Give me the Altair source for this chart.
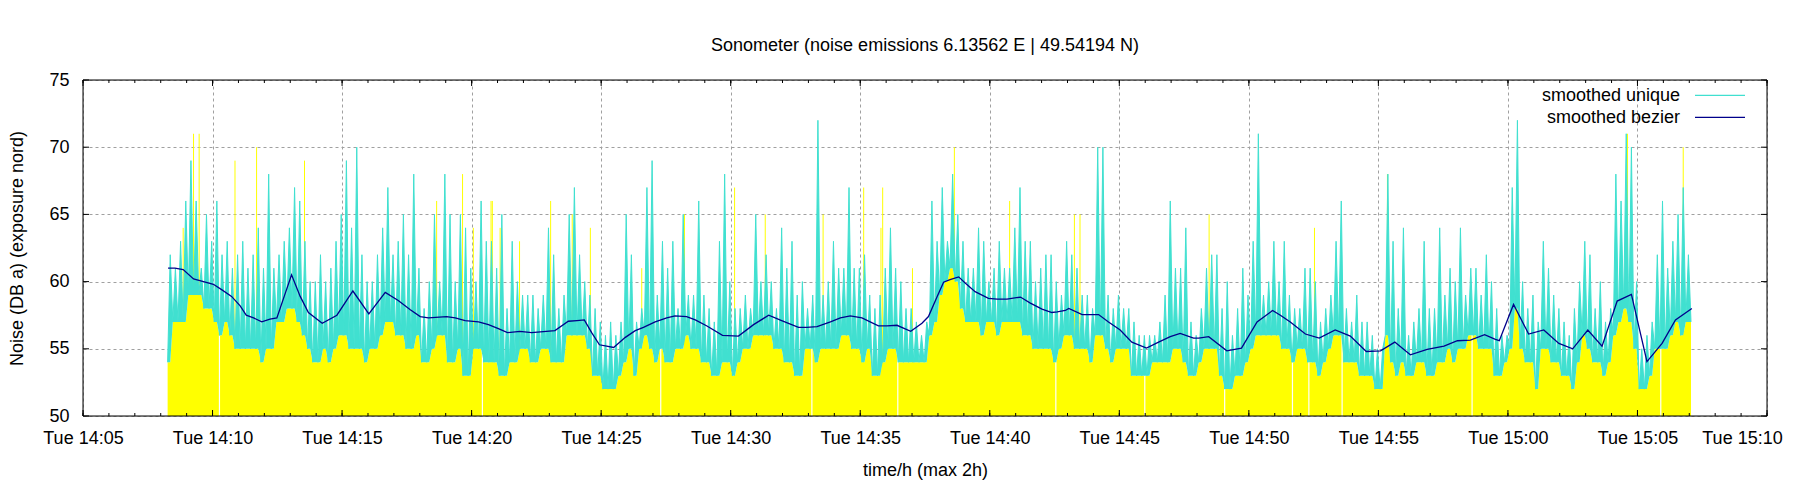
import altair as alt
import pandas as pd

FONT = "Liberation Sans"
TITLE = "Sonometer (noise emissions 6.13562 E | 49.54194 N)"
XTITLE = "time/h (max 2h)"
YTITLE = "Noise (DB a) (exposure nord)"
LEG1 = "smoothed unique"
LEG2 = "smoothed bezier"

# time axis: minutes after Tue 14:05
XMAJOR = [0, 5, 10, 15, 20, 25, 30, 35, 40, 45, 50, 55, 60, 65]
XMINOR = list(range(0, 66))
YTICKS = [50, 55, 60, 65, 70, 75]

# noise samples: 12 s bins starting 14:08:16 (seconds after 14:05)
T0 = 196
STEP = 12
# lowest level in each bin (yellow top / bottom of cyan band)
LO = [54, 57, 57, 57, 59, 59, 59, 58, 58, 57,
      56, 57, 56, 55, 55, 55, 55, 55, 54, 55,
      55, 57, 57, 58, 58, 57, 56, 55, 54, 54,
      55, 54, 55, 56, 56, 55, 55, 55, 54, 55,
      55, 56, 57, 57, 56, 56, 55, 55, 56,
      54, 54, 55, 56, 56, 54, 54, 55, 53, 53, 55,
      55, 54, 54, 54, 53, 53, 54, 54, 55, 55,
      54, 54, 55, 55, 54, 54, 54, 56, 56, 56,
      56, 55, 53, 53, 52, 52, 52, 53, 54, 55,
      53, 55, 56, 55, 54, 55, 54, 54, 55, 55,
      56, 55, 55, 54, 54, 53, 53, 54, 54, 53,
      54, 55, 55, 56, 56, 56, 56, 55, 55, 54,
      54, 53, 53, 55, 55, 54, 55, 55, 55, 55, 56, 56,
      55, 55, 54, 55, 53, 53, 54, 55, 55, 54,
      54, 54, 54, 54, 54, 56, 57, 59, 60, 61,
      60, 58, 57, 57, 57, 56, 57, 57, 56, 57,
      57, 57, 57, 56, 56, 55, 55, 55, 55, 54, 55,
      56, 56, 55, 55, 55, 54, 56, 56, 55, 54,
      55, 55, 55, 53, 53, 53, 53, 54, 54, 54,
      54, 55, 55, 54, 53, 53, 54, 55, 55, 55, 53,
      52, 52, 53, 53, 54, 55, 56, 56, 56, 56, 56,
      55, 55, 54, 55, 55, 54, 54, 53, 54, 55,
      56, 56, 54, 54, 54, 53, 53, 53, 52, 52,
      56, 54, 53, 54, 53, 53, 54, 54, 53, 53, 54,
      54, 55, 54, 55, 55, 56, 56, 55, 55, 55,
      53, 53, 54, 55, 58, 55, 54, 54, 52, 55,
      55, 54, 54, 53, 53, 52, 54, 56, 55, 54,
      54, 53, 54, 56, 57, 58, 57, 55, 52, 52,
      53, 55, 55, 55, 56, 57, 56, 57]
# highest peak in each bin
HI = [62, 61, 63, 66, 69, 66, 61, 65, 63, 66,
      62, 63, 61, 62, 63, 61, 62, 64, 61, 68,
      61, 62, 63, 64, 67, 66, 63, 60, 60, 62,
      60, 61, 63, 65, 69, 64, 70, 62, 60, 60,
      62, 64, 67, 62, 63, 65, 62, 68, 61,
      58, 60, 65, 60, 68, 65, 60, 65, 64, 61, 60,
      66, 63, 63, 61, 65, 58, 63, 60, 59, 59,
      59, 58, 59, 64, 62, 58, 59, 65, 67, 62,
      60, 59, 58, 57, 56, 57, 56, 57, 65, 62,
      57, 58, 67, 69, 59, 63, 61, 63, 58, 65,
      59, 59, 66, 59, 58, 57, 63, 68, 60, 58,
      58, 59, 58, 65, 60, 62, 60, 58, 64, 61,
      63, 59, 60, 58, 59, 72, 59, 60, 63, 61, 61, 67,
      61, 61, 62, 59, 58, 59, 61, 64, 61, 60,
      58, 58, 57, 56, 57, 66, 63, 67, 63, 68,
      65, 63, 61, 61, 64, 63, 60, 61, 63, 61,
      61, 64, 67, 63, 63, 60, 61, 62, 62, 60, 59,
      63, 62, 61, 59, 59, 58, 70, 70, 59, 58,
      59, 58, 58, 57, 56, 56, 56, 56, 57, 59,
      66, 61, 61, 64, 57, 56, 58, 61, 62, 62, 58,
      60, 56, 58, 61, 59, 63, 71, 59, 60, 63, 60,
      63, 59, 58, 58, 61, 61, 60, 57, 58, 59,
      63, 66, 58, 57, 59, 57, 57, 56, 55, 55,
      68, 63, 58, 64, 56, 57, 58, 63, 58, 58, 64,
      59, 61, 60, 64, 59, 61, 61, 59, 62, 60,
      58, 56, 56, 67, 72, 60, 58, 59, 57, 63,
      61, 59, 58, 57, 56, 58, 60, 63, 62, 58,
      60, 57, 58, 68, 66, 71, 70, 60, 55, 56,
      57, 62, 66, 61, 63, 65, 67, 62]

# raw peaks standing above the smoothed line (seconds after 14:05, dB)
YEL_T = [232, 256, 269, 352, 402, 513, 819, 879, 904, 945, 948, 966,
         1011, 1083, 1133, 1175, 1294, 1393, 1509, 1580, 1714, 1808,
         1848, 1852, 1921, 2018, 2146, 2296, 2309, 2608, 2852, 3021,
         3577, 3706]
YEL_V = [64, 71, 71, 69, 70, 69, 66, 68, 64, 66, 66, 64,
         63, 66, 65, 64, 61, 65, 67, 65, 65, 67,
         64, 67, 61, 70, 66, 65, 65, 65, 64, 68,
         71, 70]

# missing samples (seconds after 14:05)
GAP_T = [316, 925, 1338, 1688, 1887, 2253, 2459, 2644, 2801, 2839, 2916, 3217, 3654]

# smoothed bezier curve (seconds after 14:05, dB)
BEZ_T = [197, 213, 232, 256, 279, 302, 321, 344, 364, 378, 395, 414, 433, 449,
         466, 483, 503, 522, 554, 588, 625, 662, 700, 730, 758, 781,
         800, 842, 862, 885, 916, 939, 962, 983, 1012, 1039, 1073, 1093, 1124,
         1144, 1161, 1178, 1196, 1229, 1256, 1279,
         1298, 1325, 1352, 1371, 1398, 1418, 1445, 1481, 1518, 1553, 1588, 1618,
         1657, 1676, 1700, 1731, 1754, 1777,
         1804, 1842, 1862, 1885, 1917, 1943, 1958, 1979, 1993, 2008, 2028, 2043,
         2066, 2097, 2117, 2140, 2171, 2194, 2221, 2244, 2256, 2275,
         2283, 2314, 2352, 2375, 2402, 2429, 2463, 2491, 2518, 2541, 2572, 2584,
         2607, 2649, 2683, 2719, 2755, 2773,
         2796, 2831, 2863, 2900, 2935, 2972, 3005, 3038, 3074, 3113, 3152, 3183,
         3213, 3246, 3271,
         3280, 3313, 3348, 3383, 3418, 3450, 3485, 3518, 3553, 3586, 3622, 3657,
         3688, 3726]
BEZ_V = [61.0, 61.0, 60.9, 60.2, 60.0, 59.8, 59.4, 58.9, 58.2, 57.5, 57.3, 57.0, 57.2, 57.3,
         58.9, 60.5, 58.9, 57.7, 56.9, 57.5, 59.3, 57.6, 59.2, 58.6, 57.9, 57.4,
         57.3, 57.4, 57.3, 57.1, 57.0, 56.8, 56.5, 56.2, 56.3, 56.2, 56.3, 56.35, 57.05,
         57.1, 57.15, 56.2, 55.3, 55.1, 55.85, 56.35,
         56.6, 57.0, 57.3, 57.45, 57.4, 57.15, 56.7, 56.0, 55.95, 56.8, 57.5, 57.1,
         56.6, 56.6, 56.65, 57.0, 57.3, 57.45,
         57.3, 56.7, 56.7, 56.75, 56.3, 56.9, 57.4, 58.95, 59.95, 60.15, 60.35, 59.9,
         59.25, 58.75, 58.7, 58.7, 58.85, 58.4, 57.95, 57.7, 57.75, 57.85,
         58.0, 57.55, 57.55, 57.0, 56.4, 55.5, 55.05, 55.5, 55.9, 56.15, 55.8, 55.8,
         55.9, 54.85, 55.05, 57.0, 57.85, 57.5,
         57.0, 56.1, 55.8, 56.4, 55.95, 54.8, 54.85, 55.5, 54.55, 54.95, 55.2, 55.6,
         55.65, 56.05, 55.7,
         55.6, 58.3, 56.1, 56.4, 55.4, 55.0, 56.4, 55.2, 58.55, 59.05, 54.05, 55.4,
         57.15, 58.0]

C_YEL = "#ffff00"
C_CYAN = "#40e0d0"
C_BLUE = "#00008b"

W, H = 1684, 336

# ---- tables -------------------------------------------------------------
n = min(len(LO), len(HI))
rows = []
for k in range(n):
    t = T0 + STEP * k
    rows.append({"m": t / 60.0, "v": LO[k], "lo": LO[k], "base": 50})
    rows.append({"m": (t + STEP / 2) / 60.0, "v": HI[k], "lo": LO[k], "base": 50})
rows.append({"m": (T0 + STEP * n) / 60.0, "v": LO[n - 1], "lo": LO[n - 1], "base": 50})
zig = pd.DataFrame(rows)

ny = min(len(YEL_T), len(YEL_V))
yel = pd.DataFrame({"m": [t / 60.0 for t in YEL_T[:ny]], "v": YEL_V[:ny], "base": 50})

gap_lo = []
for t in GAP_T:
    k = max(0, min(n - 1, int((t - T0) // STEP)))
    gap_lo.append(LO[k])
gaps = pd.DataFrame({"m": [t / 60.0 for t in GAP_T], "v": gap_lo, "base": 50})

nb = min(len(BEZ_T), len(BEZ_V))
bez = pd.DataFrame({"m": [t / 60.0 for t in BEZ_T[:nb]], "v": BEZ_V[:nb]})

xmaj = pd.DataFrame({"m": XMAJOR})
xmin = pd.DataFrame({"m": XMINOR})
ytk = pd.DataFrame({"v": YTICKS})
one = pd.DataFrame({"a": [0]})

# ---- scales / axes -------------------------------------------------------
xs = alt.Scale(domain=[0, 65], nice=False, zero=False)
ys = alt.Scale(domain=[50, 75], nice=False, zero=False)

lab = ("'Tue ' + floor((845 + datum.value) / 60) + ':' + "
       "(((845 + datum.value) % 60) < 10 ? '0' : '') + ((845 + datum.value) % 60)")

XAX = alt.Axis(values=XMAJOR, labelExpr=lab, grid=True, gridColor="#a0a0a0",
               gridDash=[3, 3], gridWidth=1, ticks=False, domain=False,
               labelFont=FONT, labelFontSize=18, labelColor="black",
               labelPadding=13, labelFlush=False, labelOverlap=False,
               labelOffset={"condition": {"test": "datum.value == 65", "value": -25},
                            "value": 0},
               title=XTITLE, titleFont=FONT, titleFontSize=18,
               titleFontWeight="normal", titleColor="black", titlePadding=14)
YAX = alt.Axis(values=YTICKS, grid=True, gridColor="#a0a0a0", gridDash=[3, 3],
               gridWidth=1, ticks=False, domain=False, labelFont=FONT,
               labelFontSize=18, labelColor="black", labelPadding=14,
               title=YTITLE, titleFont=FONT, titleFontSize=18,
               titleFontWeight="normal", titleColor="black", titlePadding=22)


def X():
    return alt.X("m:Q", scale=xs, axis=XAX)


def Y(field="v"):
    return alt.Y(field + ":Q", scale=ys, axis=YAX)


yellow = alt.Chart(zig).mark_area(color=C_YEL, interpolate="linear").encode(
    x=X(), y=Y("lo"), y2="base:Q")
yspikes = alt.Chart(yel).mark_rule(color=C_YEL, strokeWidth=1).encode(
    x=X(), y=Y(), y2="base:Q")
gapsl = alt.Chart(gaps).mark_rule(color="white", strokeWidth=1.2).encode(
    x=X(), y=Y(), y2="base:Q")
cyan_fill = alt.Chart(zig).mark_area(color=C_CYAN, interpolate="linear").encode(
    x=X(), y=Y(), y2="lo:Q")
cyan = alt.Chart(zig).mark_line(color=C_CYAN, strokeWidth=1, strokeJoin="bevel").encode(
    x=X(), y=Y())
blue = alt.Chart(bez).mark_line(color=C_BLUE, strokeWidth=1.3).encode(x=X(), y=Y())

tk = []
for L, d in ((3, xmin), (6, xmaj)):
    tk.append(alt.Chart(d).mark_rule(color="black", strokeWidth=1).encode(
        x=X(), y=alt.value(H), y2=alt.value(H - L)))
    tk.append(alt.Chart(d).mark_rule(color="black", strokeWidth=1).encode(
        x=X(), y=alt.value(0), y2=alt.value(L)))
tk.append(alt.Chart(ytk).mark_rule(color="black", strokeWidth=1).encode(
    y=Y(), x=alt.value(0), x2=alt.value(6)))
tk.append(alt.Chart(ytk).mark_rule(color="black", strokeWidth=1).encode(
    y=Y(), x=alt.value(W), x2=alt.value(W - 6)))

frame = [
    alt.Chart(one).mark_rule(color="black", strokeWidth=1).encode(
        x=alt.value(0), x2=alt.value(W), y=alt.value(0)),
    alt.Chart(one).mark_rule(color="black", strokeWidth=1).encode(
        x=alt.value(0), x2=alt.value(W), y=alt.value(H)),
    alt.Chart(one).mark_rule(color="black", strokeWidth=1).encode(
        x=alt.value(0), y=alt.value(0), y2=alt.value(H)),
    alt.Chart(one).mark_rule(color="black", strokeWidth=1).encode(
        x=alt.value(W), y=alt.value(0), y2=alt.value(H)),
]

title = alt.Chart(one).mark_text(text=TITLE, font=FONT, fontSize=18, color="black",
                                 align="center", baseline="alphabetic").encode(
    x=alt.value(W / 2), y=alt.value(-29.3))
leg = [
    alt.Chart(one).mark_text(text=LEG1, font=FONT, fontSize=18, color="black",
                             align="right", baseline="alphabetic").encode(
        x=alt.value(1597), y=alt.value(20.7)),
    alt.Chart(one).mark_text(text=LEG2, font=FONT, fontSize=18, color="black",
                             align="right", baseline="alphabetic").encode(
        x=alt.value(1597), y=alt.value(42.7)),
    alt.Chart(one).mark_rule(color=C_CYAN, strokeWidth=1.3).encode(
        x=alt.value(1612), x2=alt.value(1662), y=alt.value(15.3)),
    alt.Chart(one).mark_rule(color=C_BLUE, strokeWidth=1.3).encode(
        x=alt.value(1612), x2=alt.value(1662), y=alt.value(37.3)),
]

chart = alt.layer(yellow, yspikes, gapsl, cyan_fill, cyan, blue, *tk, *frame, title, *leg).properties(
    width=W, height=H,
    padding={"left": 75, "top": 72, "right": 17, "bottom": 70},
    autosize=alt.AutoSizeParams(type="none"),
    background="white",
).configure_view(stroke="black", strokeWidth=1).configure(font=FONT)

chart.save("out.html", embed_options={"renderer": "svg", "actions": False})
